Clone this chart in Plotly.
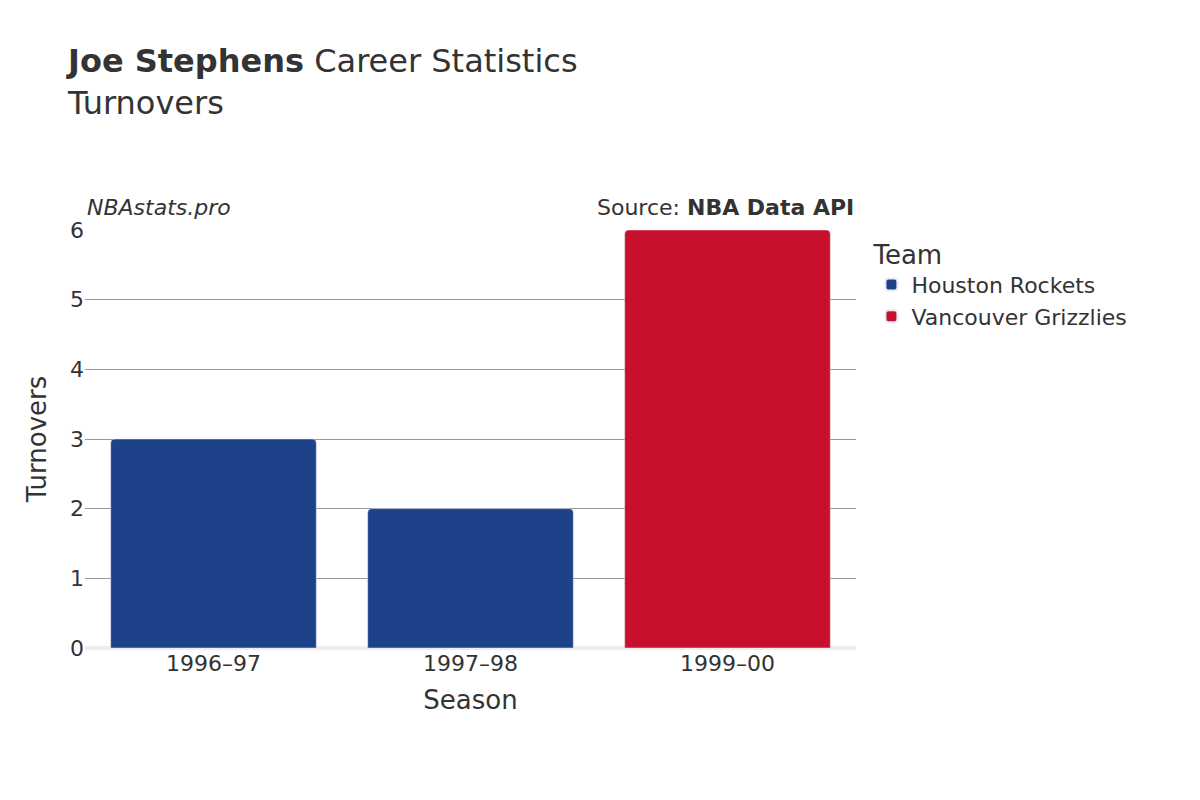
import plotly.graph_objects as go

seasons = ['1996–97', '1997–98', '1999–00']
teams = ['Houston Rockets', 'Houston Rockets', 'Vancouver Grizzlies']
turnovers = [3, 2, 6]
team_colors = {'Houston Rockets': '#1D428A', 'Vancouver Grizzlies': '#C8102E'}

fig = go.Figure()
for team in ['Houston Rockets', 'Vancouver Grizzlies']:
    xs = [s for s, t in zip(seasons, teams) if t == team]
    ys = [v for v, t in zip(turnovers, teams) if t == team]
    fig.add_trace(go.Bar(x=xs, y=ys, name=team, marker_color=team_colors[team],
                         marker_cornerradius=4))

fig.update_layout(
    width=1200, height=800,
    font=dict(family='DejaVu Sans', size=20, color='#333'),
    plot_bgcolor='white', paper_bgcolor='white',
    margin=dict(l=77, r=352, t=222, b=160),
    bargap=0.2,
    title=dict(text='<b>Joe Stephens</b> Career Statistics<br>Turnovers',
               x=0.05, xanchor='left', y=0.92, yanchor='top',
               font=dict(size=32, color='#333')),
    legend=dict(title=dict(text='Team', font=dict(size=26)), x=1.02, y=1.0,
                yanchor='top', font=dict(size=22), itemsizing='constant'),
    xaxis=dict(title=dict(text='Season', font=dict(size=26)),
               categoryorder='array', categoryarray=seasons, tickfont=dict(size=22)),
    yaxis=dict(title=dict(text='Turnovers', font=dict(size=26)), range=[0, 6],
               dtick=1, gridcolor='#999', zeroline=True, zerolinecolor='#eee',
               zerolinewidth=4, tickfont=dict(size=22)),
    annotations=[
        dict(text='<i>NBAstats.pro</i>', xref='paper', yref='paper', x=0.0, y=1.02,
             xanchor='left', yanchor='bottom', showarrow=False, font=dict(size=22, color='#333')),
        dict(text='Source: <b>NBA Data API</b>', xref='paper', yref='paper', x=1.0, y=1.02,
             xanchor='right', yanchor='bottom', showarrow=False, font=dict(size=22, color='#333')),
    ],
)
fig.write_html('out.html')
